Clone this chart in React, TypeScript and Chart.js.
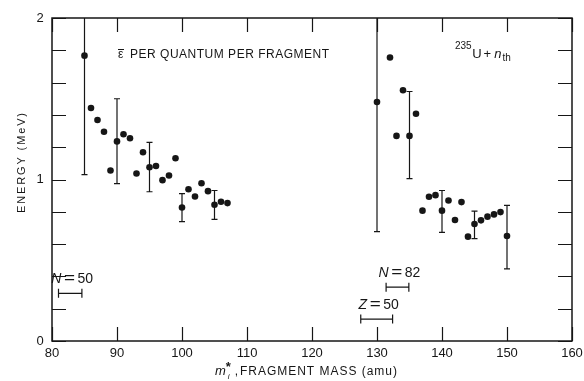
import React, { useEffect, useRef } from 'react';
import { Chart, registerables } from 'chart.js';
Chart.register(...registerables);

// ---- data ----
const masses = [85, 86, 87, 88, 89, 90, 91, 92, 93, 94, 95, 96, 97, 98, 99, 100, 101, 102, 103, 104, 105, 106, 107,
  130, 132, 133, 134, 135, 136, 137, 138, 139, 140, 141, 142, 143, 144, 145, 146, 147, 148, 149, 150];
const energies = [1.767, 1.443, 1.368, 1.296, 1.056, 1.236, 1.28, 1.255, 1.037, 1.169, 1.076, 1.084, 0.996, 1.025, 1.132,
  0.827, 0.94, 0.895, 0.977, 0.928, 0.844, 0.862, 0.854,
  1.48, 1.755, 1.27, 1.553, 1.27, 1.407, 0.807, 0.893, 0.903, 0.807, 0.87, 0.749, 0.86, 0.646, 0.724, 0.747, 0.77, 0.784, 0.798, 0.65];

const errMasses = [85, 90, 95, 100, 105, 130, 135, 140, 145, 150];
const errLow = [1.03, 0.975, 0.924, 0.739, 0.753, 0.677, 1.006, 0.673, 0.634, 0.446];
const errHigh = [2.0, 1.5, 1.23, 0.912, 0.932, 2.0, 1.545, 0.932, 0.804, 0.84];

const bracketNames = ['N', 'Z', 'N'];
const bracketNumbers = ['50', '50', '82'];
const bracketFrom = [81.0, 127.5, 131.4];
const bracketTo = [84.6, 132.4, 134.9];
const bracketLevel = [0.295, 0.136, 0.333];

const xTickValues = [80, 90, 100, 110, 120, 130, 140, 150, 160];
const yLabelValues = [0, 1, 2];
const yTickValues = [0, 0.2, 0.4, 0.6, 0.8, 1.0, 1.2, 1.4, 1.6, 1.8, 2.0];

const INK = '#161616';
const FONT = '"Liberation Sans", Arial, sans-serif';

function drawFitted(ctx: CanvasRenderingContext2D, text: string, x: number, y: number, target: number) {
  (ctx as any).letterSpacing = '0px';
  const w = ctx.measureText(text).width;
  const n = Math.max(1, text.length - 1);
  const ls = (target - w) / n;
  (ctx as any).letterSpacing = ls.toFixed(2) + 'px';
  ctx.fillText(text, x, y);
  (ctx as any).letterSpacing = '0px';
}

const decorPlugin = {
  id: 'decor',
  beforeDatasetsDraw(chart: any) {
    const { ctx, scales } = chart;
    const x = scales.x, y = scales.y;
    ctx.save();
    ctx.strokeStyle = INK;
    ctx.lineWidth = 1.2;
    const capHalf = 3;
    errMasses.forEach((m, i) => {
      const px = x.getPixelForValue(m);
      const hi = Math.min(errHigh[i], y.max);
      const pHi = y.getPixelForValue(hi);
      const pLo = y.getPixelForValue(errLow[i]);
      ctx.beginPath();
      ctx.moveTo(px, pHi);
      ctx.lineTo(px, pLo);
      ctx.moveTo(px - capHalf, pLo);
      ctx.lineTo(px + capHalf, pLo);
      if (errHigh[i] < y.max) {
        ctx.moveTo(px - capHalf, pHi);
        ctx.lineTo(px + capHalf, pHi);
      }
      ctx.stroke();
    });
    ctx.restore();
  },
  afterDraw(chart: any) {
    const { ctx, chartArea: a, scales } = chart;
    const x = scales.x, y = scales.y;
    ctx.save();
    ctx.strokeStyle = INK;
    ctx.fillStyle = INK;
    // frame
    ctx.lineWidth = 1.5;
    ctx.strokeRect(a.left, a.top, a.right - a.left, a.bottom - a.top);
    // inside ticks
    const TL = 14;
    ctx.lineWidth = 1.2;
    ctx.beginPath();
    xTickValues.forEach((v) => {
      const px = Math.round(x.getPixelForValue(v)) + 0.5;
      ctx.moveTo(px, a.bottom); ctx.lineTo(px, a.bottom - TL);
      ctx.moveTo(px, a.top); ctx.lineTo(px, a.top + TL);
    });
    yTickValues.forEach((v) => {
      const py = Math.round(y.getPixelForValue(v)) + 0.5;
      ctx.moveTo(a.left, py); ctx.lineTo(a.left + TL, py);
      ctx.moveTo(a.right, py); ctx.lineTo(a.right - TL, py);
    });
    ctx.stroke();

    // tick labels
    ctx.font = '13px ' + FONT;
    ctx.textAlign = 'center';
    ctx.textBaseline = 'middle';
    xTickValues.forEach((v) => {
      ctx.fillText(String(v), x.getPixelForValue(v), a.bottom + 12);
    });
    yLabelValues.forEach((v) => {
      ctx.fillText(String(v), 40, y.getPixelForValue(v));
    });

    // brackets
    ctx.lineWidth = 1.2;
    bracketFrom.forEach((f, i) => {
      const x0 = x.getPixelForValue(f);
      const x1 = x.getPixelForValue(bracketTo[i]);
      const py = y.getPixelForValue(bracketLevel[i]);
      ctx.beginPath();
      ctx.moveTo(x0, py); ctx.lineTo(x1, py);
      ctx.moveTo(x0, py - 4.5); ctx.lineTo(x0, py + 4.5);
      ctx.moveTo(x1, py - 4.5); ctx.lineTo(x1, py + 4.5);
      ctx.stroke();
      const cx = (x0 + x1) / 2;
      const ty = py - 14;
      ctx.textBaseline = 'middle';
      ctx.font = 'italic 14px ' + FONT;
      const nameW = ctx.measureText(bracketNames[i]).width;
      ctx.font = '14px ' + FONT;
      const eqRaw = ctx.measureText('=').width * 1.35;
      const eqW = eqRaw + 5;
      const numW = ctx.measureText(bracketNumbers[i]).width;
      const total = nameW + eqW + numW;
      let sx = cx - total / 2 + 2;
      ctx.textAlign = 'left';
      ctx.font = 'italic 14px ' + FONT;
      ctx.fillText(bracketNames[i], sx, ty);
      sx += nameW;
      ctx.font = '14px ' + FONT;
      ctx.save();
      ctx.translate(sx + 2.5, ty);
      ctx.scale(1.35, 1);
      ctx.fillText('=', 0, 0);
      ctx.restore();
      sx += eqW;
      ctx.fillText(bracketNumbers[i], sx, ty);
    });

    // annotation: epsilon-bar per quantum per fragment
    ctx.textBaseline = 'alphabetic';
    ctx.textAlign = 'left';
    ctx.font = '12px ' + FONT;
    ctx.fillText('\u03B5', 118, 58);
    ctx.beginPath();
    ctx.lineWidth = 1;
    ctx.moveTo(118, 49.5); ctx.lineTo(124, 49.5);
    ctx.stroke();
    drawFitted(ctx, 'PER QUANTUM PER FRAGMENT', 130, 58, 199);

    // 235U + n_th
    ctx.font = '10px ' + FONT;
    ctx.fillText('235', 455, 49);
    let ux = 455 + ctx.measureText('235').width + 0.5;
    ctx.font = '13px ' + FONT;
    ctx.fillText('U', ux, 58);
    ux += ctx.measureText('U').width + 2;
    ctx.fillText('+', ux, 58);
    ux += ctx.measureText('+').width + 3;
    ctx.font = 'italic 13px ' + FONT;
    ctx.fillText('n', ux, 58);
    ux += ctx.measureText('n').width + 1;
    ctx.font = '10px ' + FONT;
    ctx.fillText('th', ux, 61);

    // y title
    ctx.save();
    ctx.translate(22, 163);
    ctx.rotate(-Math.PI / 2);
    ctx.textAlign = 'left';
    ctx.textBaseline = 'middle';
    ctx.font = '11px ' + FONT;
    drawFitted(ctx, 'ENERGY (MeV)', -50, 0, 100);
    ctx.restore();

    // x title
    ctx.textBaseline = 'alphabetic';
    ctx.textAlign = 'left';
    ctx.font = 'italic 13px ' + FONT;
    let tx = 215;
    ctx.fillText('m', tx, 375);
    tx += ctx.measureText('m').width;
    ctx.font = 'bold 13px ' + FONT;
    ctx.fillText('*', tx, 371);
    ctx.font = 'italic 8px ' + FONT;
    ctx.fillText('i', tx + 2, 379);
    tx += 9;
    ctx.font = '12px ' + FONT;
    ctx.fillText(',', tx, 375);
    drawFitted(ctx, 'FRAGMENT MASS (amu)', 240, 375, 157);

    ctx.restore();
  },
};

export default function App() {
  const ref = useRef<HTMLCanvasElement>(null);
  useEffect(() => {
    if (!ref.current) return;
    const chart = new Chart(ref.current, {
      type: 'scatter',
      data: {
        datasets: [
          {
            data: masses.map((m, i) => ({ x: m, y: energies[i] })),
            pointRadius: 3.3,
            pointBackgroundColor: INK,
            pointBorderColor: INK,
            pointBorderWidth: 0,
            showLine: false,
          },
        ],
      },
      options: {
        animation: false,
        responsive: false,
        devicePixelRatio: 1,
        layout: { padding: { top: 18, right: 12, left: 0, bottom: 0 } },
        plugins: { legend: { display: false }, tooltip: { enabled: false } },
        scales: {
          x: {
            type: 'linear',
            min: 80,
            max: 160,
            afterFit: (s: any) => { s.height = 40; },
            ticks: { display: false, stepSize: 10 },
            grid: { display: false },
            border: { display: false },
          },
          y: {
            type: 'linear',
            min: 0,
            max: 2,
            afterFit: (s: any) => { s.width = 52; },
            ticks: { display: false, stepSize: 1 },
            grid: { display: false },
            border: { display: false },
          },
        },
      },
      plugins: [decorPlugin],
    } as any);
    return () => chart.destroy();
  }, []);
  return (
    <div style={{ position: 'fixed', left: 0, top: 0, width: 584, height: 381, background: '#fff' }}>
      <canvas ref={ref} width={584} height={381} />
    </div>
  );
}
